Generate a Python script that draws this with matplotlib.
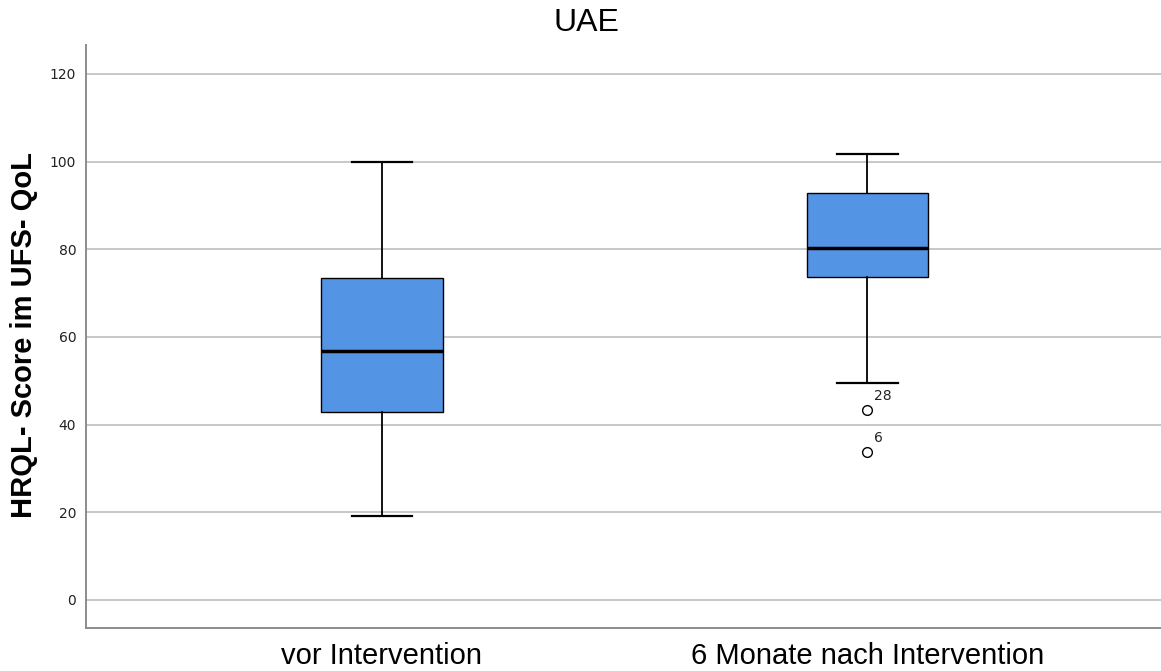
import matplotlib
matplotlib.use('Agg')
import matplotlib.pyplot as plt

# Kennwerte der beiden Boxplots (UFS-QoL, HRQL-Score)
groups = ['vor Intervention', '6 Monate nach Intervention']
whisker_low = [19.2, 49.4]
q1 = [42.8, 73.6]
median = [56.7, 80.4]
q3 = [73.5, 92.8]
whisker_high = [100.0, 101.8]
outliers = [[], [43.3, 33.8]]
outlier_ids = [[], ['28', '6']]
yticks = [0, 20, 40, 60, 80, 100, 120]

plt.rcParams['font.family'] = ['Liberation Sans', 'DejaVu Sans']

fig = plt.figure(figsize=(11.61, 6.71), dpi=100)
ax = fig.add_axes([0.074, 0.064, 0.926, 0.869])

stats = []
for i, name in enumerate(groups):
    stats.append({
        'label': name,
        'whislo': whisker_low[i],
        'q1': q1[i],
        'med': median[i],
        'q3': q3[i],
        'whishi': whisker_high[i],
        'fliers': outliers[i],
    })

positions = [1, 2]
ax.bxp(stats, positions=positions, widths=0.25, patch_artist=True,
       boxprops=dict(facecolor='#5494e4', edgecolor='black', linewidth=1.0),
       medianprops=dict(color='black', linewidth=2.5),
       whiskerprops=dict(color='black', linewidth=1.3),
       capprops=dict(color='black', linewidth=1.6),
       capwidths=0.125,
       flierprops=dict(marker='o', markersize=7, markerfacecolor='white',
                       markeredgecolor='black', markeredgewidth=1.0),
       zorder=3)

# Fallnummern neben den Ausreißern
for pos, vals, ids in zip(positions, outliers, outlier_ids):
    for v, lab in zip(vals, ids):
        ax.annotate(lab, (pos, v), xytext=(5, 10), textcoords='offset points',
                    ha='left', va='center', fontsize=10, family='DejaVu Sans',
                    color='#222222')

ax.set_xlim(0.39, 2.605)
ax.set_ylim(-6.4, 126.6)
ax.set_yticks(yticks)
ax.set_yticklabels([str(t) for t in yticks], family='DejaVu Sans',
                   fontsize=10, color='#222222')
ax.set_xticks(positions)
ax.set_xticklabels(groups, fontsize=21, color='black')
ax.tick_params(axis='both', length=0)
ax.tick_params(axis='y', pad=7)
ax.tick_params(axis='x', pad=10)

ax.yaxis.grid(True, color='#c8c8c8', linewidth=1.4, zorder=0)
ax.set_axisbelow(True)
for side in ['top', 'right']:
    ax.spines[side].set_visible(False)
for side in ['left', 'bottom']:
    ax.spines[side].set_color('#8c8c8c')
    ax.spines[side].set_linewidth(1.4)

fig.text(0.505, 0.966, 'UAE', ha='center', va='center', fontsize=23)
fig.text(0.0207, 0.5, 'HRQL- Score im UFS- QoL', rotation=90, ha='center',
         va='center', fontsize=21, fontweight='bold')

fig.savefig('out.png', dpi=100)
